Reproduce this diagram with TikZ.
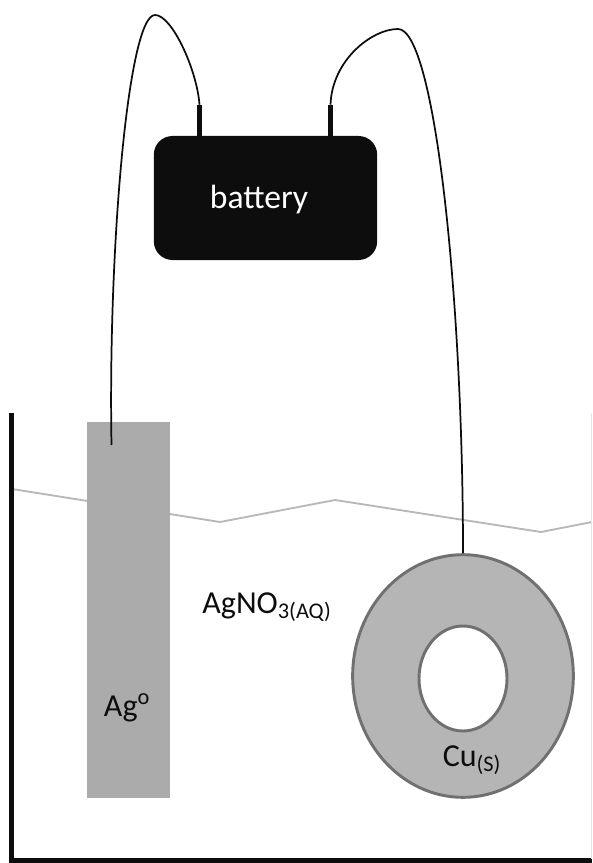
\documentclass[tikz,border=0pt]{standalone}
\usepackage{fontspec}
\setmainfont{Carlito}
\usetikzlibrary{shapes.geometric,positioning}
\definecolor{rodgray}{RGB}{171,171,171}
\definecolor{ringgray}{RGB}{181,181,181}
\definecolor{ringedge}{RGB}{112,112,112}
\definecolor{watergray}{RGB}{184,184,184}
\definecolor{battblack}{RGB}{13,13,13}
\begin{document}
\begin{tikzpicture}[
    x=0.75pt, y=-0.75pt,
    wire/.style={draw=battblack, line width=1.3pt},
    terminal/.style={fill=battblack, minimum width=3.8pt, minimum height=23.25pt, inner sep=0pt},
    label/.style={font=\fontsize{24}{26}\selectfont, text=battblack, inner sep=0pt},
    ring/.style={ellipse, draw=ringedge, line width=2.2pt, inner sep=0pt}
]
\useasboundingbox (0,0) rectangle (592,863);

% Tank and water
\draw[watergray, line width=1.4pt] (12,489) -- (220,522) -- (335,500) -- (541,532) -- (592,522);
\draw[battblack, line width=3.4pt] (11.5,413) -- (11.5,860.5) -- (592,860.5);
\draw[gray!20, line width=0.8pt] (591.5,413) -- (591.5,859);

% Silver rod
\node[fill=rodgray, minimum width=62.25pt, minimum height=282pt, inner sep=0pt] (agrod) at (128.5,610) {};
\node[label] (aglabel) at (127,708) {Ag\textsuperscript{o}};
\coordinate (agend) at (111.5,445);

% Copper ring
\node[ring, fill=ringgray, minimum width=165.5pt, minimum height=182pt] (cuouter) at (463,676) {};
\node[ring, fill=white, minimum width=66pt, minimum height=78.75pt] (cuinner) at (463,678.5) {};
\node[label] (culabel) at (472,760) {Cu\textsubscript{(S)}};

% Solution
\node[label] (solution) at (267,607) {AgNO\textsubscript{3(AQ)}};

% Battery
\node[fill=battblack, rounded corners=14pt, minimum width=167.5pt, minimum height=93pt, inner sep=0pt] (battery) at (265.5,198) {};
\node[text=white, inner sep=0pt, font=\fontsize{25.2}{27}\selectfont] (batterylabel) at (259,200) {battery};
\node[terminal] (termleft) at (199.5,120.5) {};
\node[terminal] (termright) at (330.5,120.5) {};

% Wires
\coordinate (peakleft) at (155,15);
\coordinate (peakright) at (398,29);
\draw[wire] (termleft.north) .. controls (197,70) and (172,15) .. (peakleft)
    .. controls (128,15) and (108,250) .. (agend);
\draw[wire] (termright.north) .. controls (332,60) and (372,29) .. (peakright)
    .. controls (435,29) and (463,300) .. (cuouter.north);
\end{tikzpicture}
\end{document}
